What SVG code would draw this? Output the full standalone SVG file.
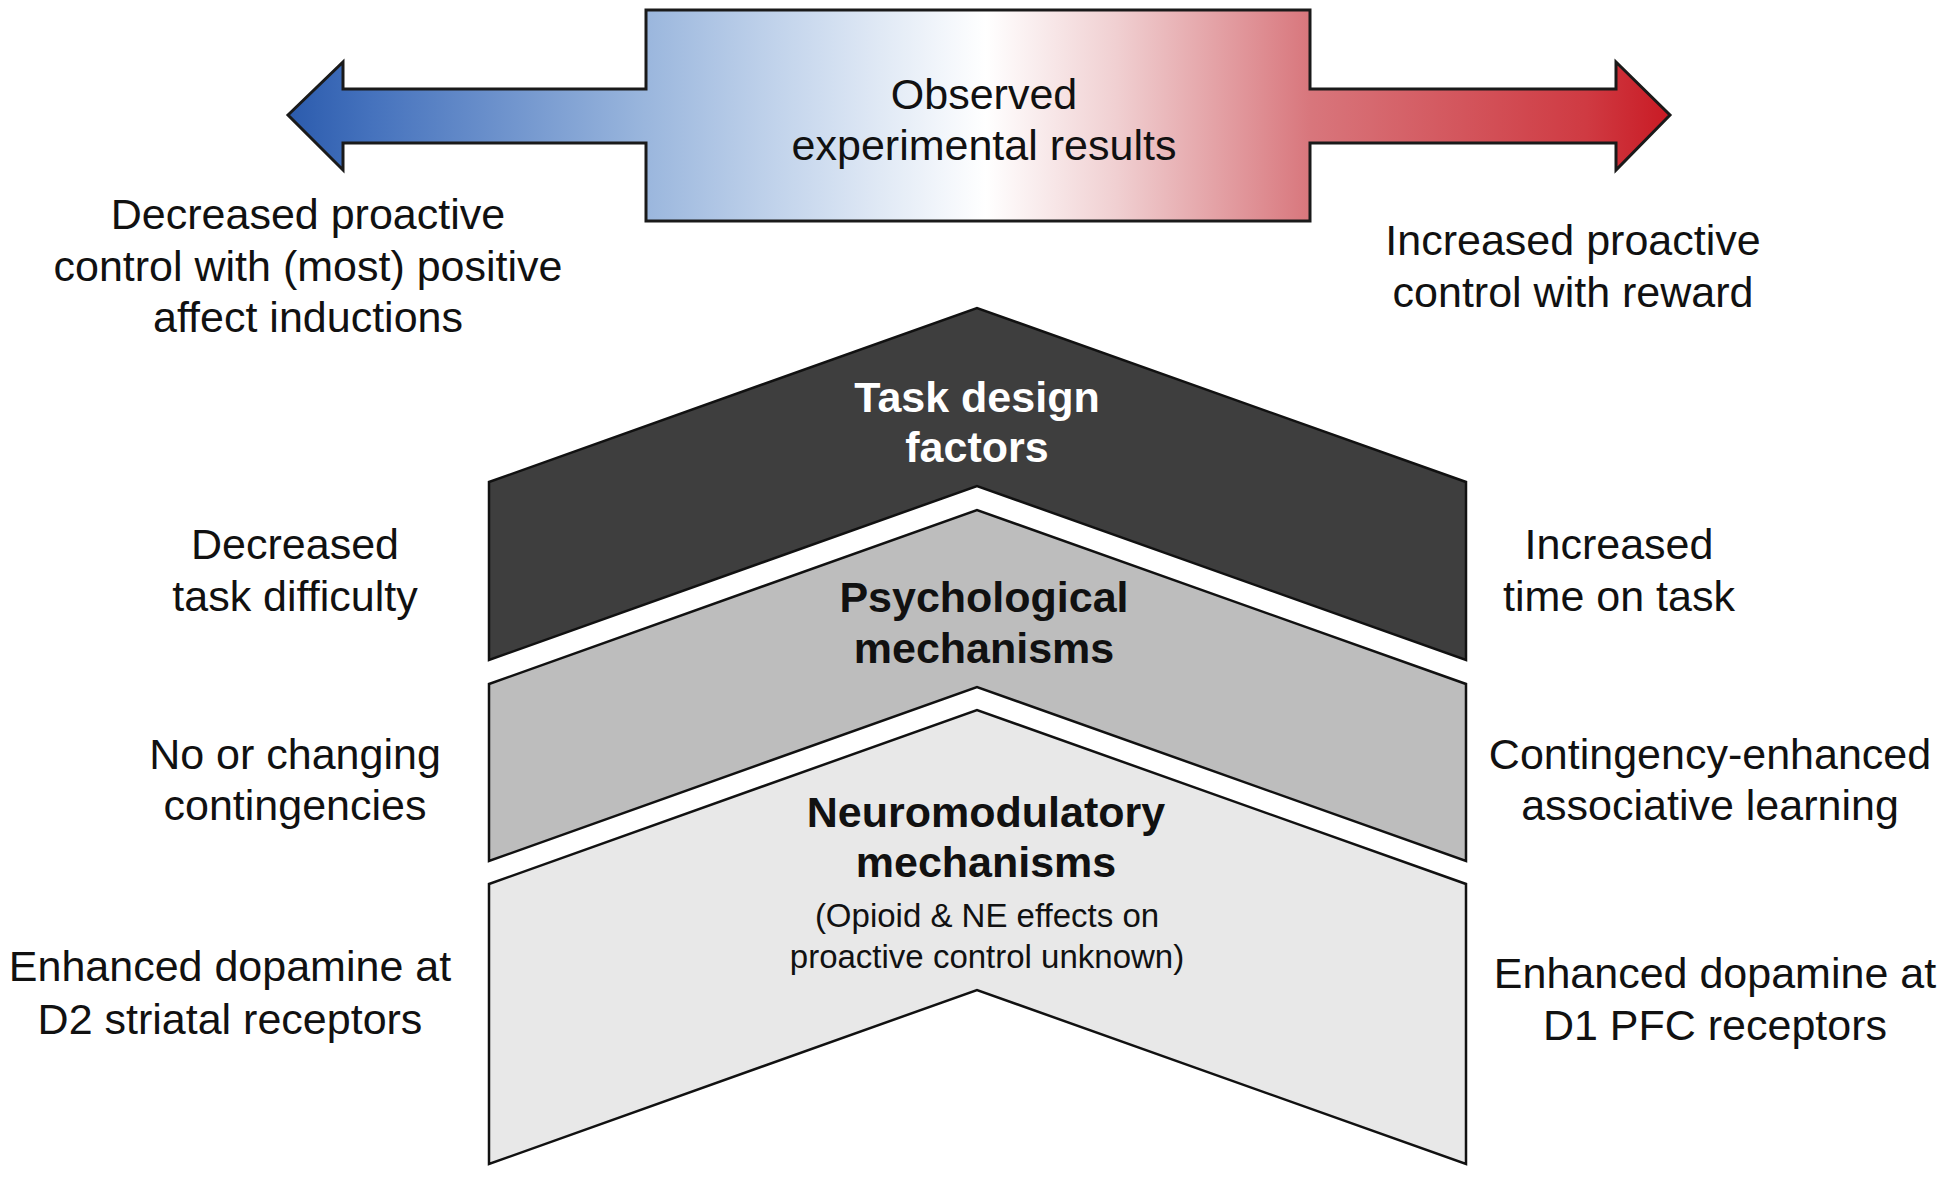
<svg xmlns="http://www.w3.org/2000/svg" width="1950" height="1177" viewBox="0 0 1950 1177">
<defs>
<linearGradient id="bluered" gradientUnits="userSpaceOnUse" x1="288" y1="0" x2="1670" y2="0">
<stop offset="0" stop-color="#2b5bad"/>
<stop offset="0.06" stop-color="#4572bd"/>
<stop offset="0.258" stop-color="#9ab6dd"/>
<stop offset="0.36" stop-color="#c4d5ec"/>
<stop offset="0.505" stop-color="#ffffff"/>
<stop offset="0.6" stop-color="#f0cfd1"/>
<stop offset="0.74" stop-color="#d8767c"/>
<stop offset="0.94" stop-color="#cf3a42"/>
<stop offset="1" stop-color="#c91a24"/>
</linearGradient>
<style>
.lbl{font-family:"Liberation Sans",Arial,Helvetica,sans-serif;font-size:43px;fill:#111;text-anchor:middle}
.ttl{font-family:"Liberation Sans",Arial,Helvetica,sans-serif;font-size:43px;font-weight:bold;text-anchor:middle}
.sub{font-family:"Liberation Sans",Arial,Helvetica,sans-serif;font-size:33px;fill:#111;text-anchor:middle}
.chev{stroke:#111;stroke-width:2.5;stroke-linejoin:miter}
</style>
</defs>

<g id="observed-results">
<path d="M288,115 L343,62 L343,89 L646,89 L646,10 L1310,10 L1310,89 L1616,89 L1616,62 L1670,115 L1616,170 L1616,143 L1310,143 L1310,221 L646,221 L646,143 L343,143 L343,170 Z" fill="url(#bluered)" stroke="#1a1a1a" stroke-width="3" stroke-linejoin="miter"/>
<text class="lbl"><tspan x="984" y="109">Observed</tspan><tspan x="984" y="160">experimental results</tspan></text>
</g>

<g id="label-decreased-proactive">
<text class="lbl"><tspan x="308" y="229">Decreased proactive</tspan><tspan x="308" y="281">control with (most) positive</tspan><tspan x="308" y="332">affect inductions</tspan></text>
</g>

<g id="label-increased-proactive">
<text class="lbl"><tspan x="1573" y="255">Increased proactive</tspan><tspan x="1573" y="307">control with reward</tspan></text>
</g>

<g id="neuromodulatory">
<path class="chev" d="M489,884 L977,710 L1466,884 L1466,1164 L977,990 L489,1164 Z" fill="#e8e8e8"/>
<text class="ttl" fill="#111"><tspan x="986" y="827">Neuromodulatory</tspan><tspan x="986" y="877">mechanisms</tspan></text>
<text class="sub"><tspan x="987" y="927">(Opioid &amp; NE effects on</tspan><tspan x="987" y="968">proactive control unknown)</tspan></text>
</g>

<g id="psychological">
<path class="chev" d="M489,684 L977,510 L1466,684 L1466,861 L977,687 L489,861 Z" fill="#bdbdbd"/>
<text class="ttl" fill="#111"><tspan x="984" y="612">Psychological</tspan><tspan x="984" y="663">mechanisms</tspan></text>
</g>

<g id="task-design">
<path class="chev" d="M489,482 L977,308 L1466,482 L1466,660 L977,486 L489,660 Z" fill="#3e3e3e"/>
<text class="ttl" fill="#ffffff"><tspan x="977" y="412">Task design</tspan><tspan x="977" y="462">factors</tspan></text>
</g>

<g id="left-labels">
<text class="lbl"><tspan x="295" y="559">Decreased</tspan><tspan x="295" y="611">task difficulty</tspan></text>
<text class="lbl"><tspan x="295" y="769">No or changing</tspan><tspan x="295" y="820">contingencies</tspan></text>
<text class="lbl"><tspan x="230" y="981">Enhanced dopamine at</tspan><tspan x="230" y="1034">D2 striatal receptors</tspan></text>
</g>

<g id="right-labels">
<text class="lbl"><tspan x="1619" y="559">Increased</tspan><tspan x="1619" y="611">time on task</tspan></text>
<text class="lbl"><tspan x="1710" y="769">Contingency-enhanced</tspan><tspan x="1710" y="820">associative learning</tspan></text>
<text class="lbl"><tspan x="1715" y="988">Enhanced dopamine at</tspan><tspan x="1715" y="1040">D1 PFC receptors</tspan></text>
</g>

<g id="connectors"></g>
</svg>
